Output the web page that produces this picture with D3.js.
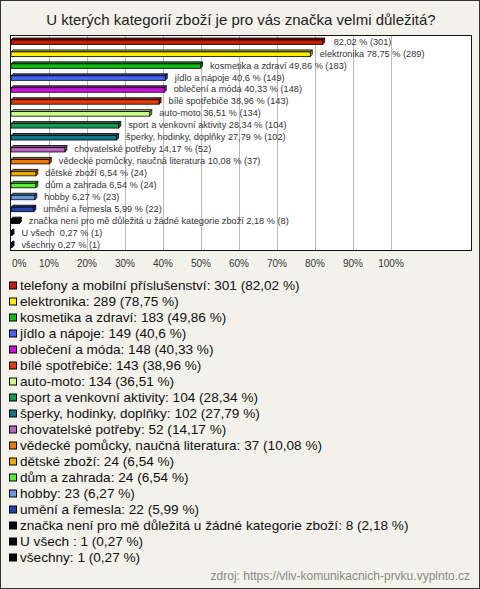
<!DOCTYPE html>
<html><head><meta charset="utf-8">
<script src="https://cdn.jsdelivr.net/npm/d3@7"></script>
<style>
html,body{margin:0;padding:0;background:#f3f2ea;}
svg{display:block;font-family:"Liberation Sans",Arial,sans-serif;}
</style></head>
<body>
<script>
const title = "U kterých kategorií zboží je pro vás značka velmi důležitá?";
const categories = ["telefony a mobilní příslušenství","elektronika","kosmetika a zdraví","jídlo a nápoje","oblečení a móda","bílé spotřebiče","auto-moto","sport a venkovní aktivity","šperky, hodinky, doplňky","chovatelské potřeby","vědecké pomůcky, naučná literatura","dětské zboží","dům a zahrada","hobby","umění a řemesla","značka není pro mě důležitá u žádné kategorie zboží","U všech ","všechny"];
const counts = [301,289,183,149,148,143,134,104,102,52,37,24,24,23,22,8,1,1];
const percents = [82.02,78.75,49.86,40.6,40.33,38.96,36.51,28.34,27.79,14.17,10.08,6.54,6.54,6.27,5.99,2.18,0.27,0.27];
const colors = ["#c41e0a","#ffee00","#11bb11","#4466ee","#cc11dd","#e03c0a","#ccff88","#119955","#117788","#bb66bb","#ee7700","#eeaa00","#55ee33","#6699dd","#2244aa","#000000","#000000","#000000"];
const tickValues = [0,10,20,30,40,50,60,70,80,90,100];
const source = "zdroj: https://vliv-komunikacnich-prvku.vyplnto.cz";

const W = 480, H = 589;
const fmt = v => String(v).replace(".", ",");
const darker = c => d3.color(c).darker(0.8).formatHex();

const svg = d3.select("body").append("svg").attr("width", W).attr("height", H);
svg.append("rect").attr("x",0.5).attr("y",0.5).attr("width",W-1).attr("height",H-1)
  .attr("fill","#f3f2ea").attr("stroke","#333");

svg.append("text").attr("x",241).attr("y",25).attr("text-anchor","middle")
  .attr("font-size",15).attr("fill","#222").text(title);

const plot = {l:10.5, t:35.5, r:471.5, b:250.5};
svg.append("rect").attr("x",plot.l).attr("y",plot.t).attr("width",plot.r-plot.l).attr("height",plot.b-plot.t)
  .attr("fill","#fff");

const x = d3.scaleLinear().domain([0,100]).range([11,391]);
const y = d3.scaleBand().domain(d3.range(categories.length)).range([plot.t, plot.b]);

// gridlines
svg.append("g").selectAll("line").data(tickValues.filter(t=>t>0)).join("line")
  .attr("x1",d=>Math.round(x(d))+0.5).attr("x2",d=>Math.round(x(d))+0.5)
  .attr("y1",plot.t).attr("y2",plot.b).attr("stroke","#bbb");

svg.append("rect").attr("x",plot.l).attr("y",plot.t).attr("width",plot.r-plot.l).attr("height",plot.b-plot.t)
  .attr("fill","none").attr("stroke","#111");

// tick labels
svg.append("g").selectAll("text").data(tickValues).join("text")
  .attr("x",d=> d===0 ? 12 : x(d)).attr("y",267)
  .attr("text-anchor",d=> d===0 ? "start" : "middle")
  .attr("font-size",10).attr("fill","#333").text(d=>d+"%");

// 3D bars
const dep = 2;
const bars = svg.append("g").selectAll("g").data(categories).join("g");
bars.each(function(c,i){
  const g = d3.select(this);
  const cy = y(i) + y.bandwidth()/2;
  const x0 = x(0), x1 = Math.max(x(percents[i]), x0+1);
  const top = cy - 1.5, bot = cy + 3;
  g.append("path").attr("d",`M${x1},${top}L${x1+dep},${top-dep}L${x1+dep},${bot-dep}L${x1},${bot}Z`)
    .attr("fill",darker(colors[i])).attr("stroke","#000").attr("stroke-width",0.8);
  g.append("path").attr("d",`M${x0},${top}L${x0+dep},${top-dep}L${x1+dep},${top-dep}L${x1},${top}Z`)
    .attr("fill",darker(colors[i])).attr("stroke","#000").attr("stroke-width",0.8);
  g.append("rect").attr("x",x0).attr("y",top).attr("width",x1-x0).attr("height",bot-top)
    .attr("fill",colors[i]).attr("stroke","#000").attr("stroke-width",0.8);
  const label = (i===0 ? "" : c + " ") + fmt(percents[i]) + " % (" + counts[i] + ")";
  g.append("text").attr("x",x(percents[i]) + 9.5 + (i===0?1.5:0)).attr("y",cy+3.2)
    .attr("font-size",9.2).attr("fill","#333").style("white-space","pre").text(label);
});

// legend
const leg = svg.append("g").selectAll("g").data(categories).join("g")
  .attr("transform",(d,i)=>`translate(0,${285.5 + i*16})`);
leg.append("rect").attr("x",9.5).attr("y",-3.5).attr("width",7).attr("height",7)
  .attr("fill",(d,i)=>colors[i]).attr("stroke","#000");
leg.append("text").attr("x",20).attr("y",4.8).attr("font-size",13.6).attr("fill","#111")
  .style("white-space","pre")
  .text((d,i)=> d + ": " + counts[i] + " (" + fmt(percents[i]) + " %)");

svg.append("text").attr("x",470).attr("y",580).attr("text-anchor","end")
  .attr("font-size",12).attr("fill","#888").text(source);
</script>
</body></html>
